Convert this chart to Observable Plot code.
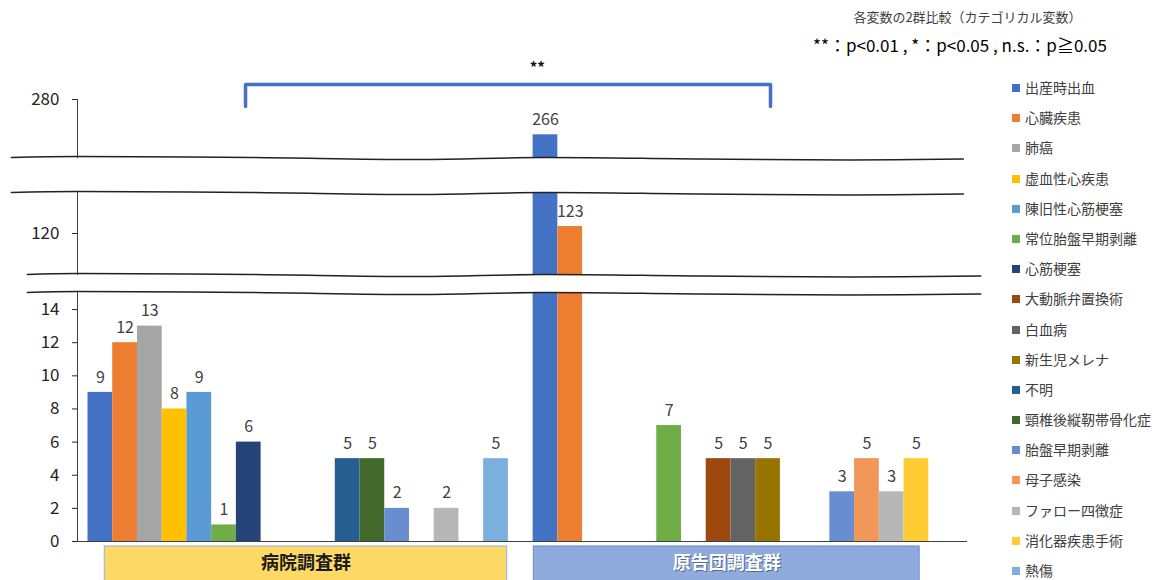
<!DOCTYPE html>
<html><head><meta charset="utf-8">
<script src="https://cdn.jsdelivr.net/npm/d3@7"></script>
<script src="https://cdn.jsdelivr.net/npm/@observablehq/plot@0.6"></script>
<style>
body{margin:0;background:#fff;font-family:"Noto Sans CJK JP","Noto Sans",sans-serif;}
#chart{position:relative;width:1163px;height:580px;overflow:hidden;background:#fff;}
.hdr1{position:absolute;left:800px;width:335px;top:8px;text-align:center;font-size:13px;color:#404040;line-height:18px;}
.hdr2{position:absolute;left:780px;width:360px;top:34px;text-align:center;font-size:17px;color:#000;line-height:22px;}
.legend{position:absolute;left:1012px;top:0;}
.li{position:absolute;left:0;white-space:nowrap;font-size:14px;color:#404040;line-height:18px;}
.sw{display:inline-block;width:8px;height:8px;margin-right:5px;vertical-align:1px;}
</style></head><body><div id="chart"></div>
<script>
// ---- data ----
const categories = ["出産時出血","心臓疾患","肺癌","虚血性心疾患","陳旧性心筋梗塞","常位胎盤早期剥離","心筋梗塞","大動脈弁置換術","白血病","新生児メレナ","不明","頸椎後縦靭帯骨化症","胎盤早期剥離","母子感染","ファロー四徴症","消化器疾患手術","熱傷"];
const colors = ["#4472C4","#ED7D31","#A5A5A5","#FFC000","#5B9BD5","#70AD47","#264478","#9E480E","#636363","#997300","#255E91","#43682B","#698ED0","#F1975A","#B7B7B7","#FFCD33","#7CAFDD"];
const groups = ["病院調査群","原告団調査群"];
const hospitalValues  = [9,12,13,8,9,1,6,0,0,0,5,5,2,0,2,0,5];
const plaintiffValues = [266,123,0,0,0,7,0,5,5,5,0,0,3,5,3,5,0];
const ticksTop = [280];
const ticksMid = [120];
const ticksBottom = [0,2,4,6,8,10,12,14];
const headerLine1 = "各変数の2群比較（カテゴリカル変数）";
const headerLine2 = "**：p<0.01 , *：p<0.05 , n.s.：p≧0.05";
const significance = "**";

// ---- table ----
const nCat = categories.length;
const rows = [];
[hospitalValues, plaintiffValues].forEach((vals, g) =>
  vals.forEach((v, i) => { if (v > 0) rows.push({group: groups[g], category: categories[i], slot: g * (nCat + 1) + i, value: v}); })
);
const nSlots = 2 * nCat + 1;

// annotation geometry (slot units)
const waveX = [-3.1, -0.4, 6.6, 13.4, 18.3, 24.8, 30.8, 35.4];
const waveDy = [0, -1, 0, 2, 0, 1.5, 2.5, 1.5];
const waveX2 = [-2.45, -0.4, 6.6, 13.4, 18.3, 24.8, 30.8, 36.1];
const bracketX = [6.37, 27.6];
const boxes = [
  {label: groups[0], x1: 0.68, x2: 16.95, fill: "#FFD966", stroke: "#A4B8DE", color: "#1a1a1a"},
  {label: groups[1], x1: 18.03, x2: 33.63, fill: "#8FAADC", stroke: "#7895CF", color: "#ffffff"}
];

const FONT = '"Noto Sans CJK JP","Noto Sans",sans-serif';
const chart = document.getElementById("chart");

function makePanel(cfg) {
  const inner = cfg.height - cfg.marginTop - cfg.marginBottom;
  const k = (cfg.domain[1] - cfg.domain[0]) / inner; // units per px
  const waveAt = (xs, edge) => xs.map((x, j) => ({x, y: edge - waveDy[j] * k}));
  const inDomain = rows.filter(d => d.value >= cfg.domain[0] && d.value <= cfg.domain[1]);
  const marks = [
    Plot.rectY(rows, {x1: "slot", x2: d => d.slot + 1, y: "value", fill: "category", clip: true}),
    Plot.text(inDomain, {x: d => d.slot + 0.5, y: "value", text: d => String(d.value), dy: -15, fontSize: 16, fill: "#404040"}),
    Plot.axisY({ticks: cfg.ticks, tickSize: 5, tickPadding: 13, fontSize: 17, color: "#262626"}),
    Plot.frame({anchor: "left", stroke: "#404040"})
  ];
  (cfg.breaks || []).forEach(b => {
    const edge = b.edge === "top" ? cfg.domain[1] : cfg.domain[0];
    marks.push(Plot.line(waveAt(b.xs, edge), {x: "x", y: "y", curve: "catmull-rom", stroke: "#222", strokeWidth: 1.5}));
  });
  if (cfg.extra) marks.push(...cfg.extra(k));
  const svg = Plot.plot({
    width: 1163, height: cfg.height,
    marginLeft: 77, marginRight: 196, marginTop: cfg.marginTop, marginBottom: cfg.marginBottom,
    x: {type: "linear", domain: [0, nSlots], range: [87.5, 953], axis: null},
    y: {domain: cfg.domain, axis: null},
    color: {domain: categories, range: colors},
    style: {background: "transparent", overflow: "visible", fontFamily: FONT},
    marks
  });
  svg.style.position = "absolute";
  svg.style.left = "0px";
  svg.style.top = cfg.top + "px";
  chart.appendChild(svg);
}

// top panel (257..280), frame 99..157
makePanel({
  top: 0, height: 170, marginTop: 99, marginBottom: 13, domain: [257, 280], ticks: ticksTop,
  breaks: [{edge: "bottom", xs: waveX}],
  extra: (k) => {
    const yTop = 280 + 15 * k, yEnd = 280 - 7 * k;
    return [
      Plot.line([{x: bracketX[0], y: yEnd}, {x: bracketX[0], y: yTop}, {x: bracketX[1], y: yTop}, {x: bracketX[1], y: yEnd}],
        {x: "x", y: "y", stroke: "#4472C4", strokeWidth: 3.5, strokeLinejoin: "round"}),
      Plot.text([significance], {x: 18.17, y: 280 + 31 * k, text: d => d, fontSize: 15, fontWeight: "bold", fill: "#111"})
    ];
  }
});
// middle panel, frame 192..274
makePanel({
  top: 170, height: 110, marginTop: 22, marginBottom: 6, domain: [102.4, 137.6], ticks: ticksMid,
  breaks: [{edge: "top", xs: waveX}, {edge: "bottom", xs: waveX2}]
});
// bottom panel, frame 292..541
makePanel({
  top: 280, height: 300, marginTop: 12, marginBottom: 39, domain: [0, 15.03], ticks: ticksBottom,
  breaks: [{edge: "top", xs: waveX2}],
  extra: (k) => [
    Plot.ruleY([0], {stroke: "#404040", strokeWidth: 1.2}),
    Plot.rect(boxes, {x1: "x1", x2: "x2", y1: -5 * k, y2: -50 * k, fill: "fill", stroke: "stroke", strokeWidth: 1.2}),
    Plot.text(boxes.filter(b => b.color === "#ffffff"), {x: d => (d.x1 + d.x2) / 2, y: -22 * k, text: "label", fontSize: 18, fontWeight: "bold", fill: "#55698f", dx: 1, dy: 1}),
    Plot.text(boxes, {x: d => (d.x1 + d.x2) / 2, y: -22 * k, text: "label", fontSize: 18, fontWeight: "bold", fill: "color"})
  ]
});

// header
const h1 = document.createElement("div"); h1.className = "hdr1"; h1.textContent = headerLine1; chart.appendChild(h1);
const h2 = document.createElement("div"); h2.className = "hdr2"; h2.textContent = headerLine2; chart.appendChild(h2);

// legend
const lg = d3.select(chart).append("div").attr("class", "legend");
categories.forEach((c, i) => {
  const it = lg.append("div").attr("class", "li").style("top", (87 + i * 30.19 - 9) + "px");
  it.append("span").attr("class", "sw").style("background", colors[i]);
  it.append("span").text(c);
});
</script></body></html>
